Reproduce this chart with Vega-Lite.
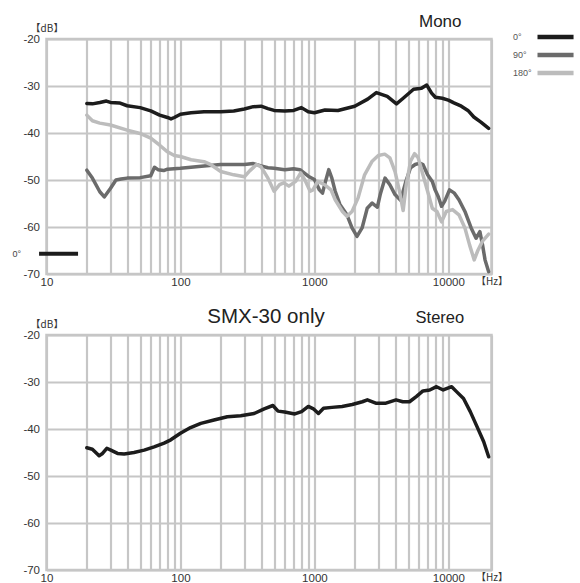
{
  "$schema": "https://vega.github.io/schema/vega-lite/v6.json",
  "padding": {"left": 10.5, "top": 11, "right": 5, "bottom": 3},
  "background": "white",
  "config": {
    "font": "Liberation Sans",
    "view": {"stroke": "#c6c6c6", "strokeWidth": 2.5},
    "title": {"font": "Liberation Sans", "fontWeight": "normal", "color": "#222222"}
  },
  "datasets": {
    "mono": [
      {"f": 20, "db": -33.7, "angle": "0°"},
      {"f": 22, "db": -33.8, "angle": "0°"},
      {"f": 25, "db": -33.5, "angle": "0°"},
      {"f": 28, "db": -33.2, "angle": "0°"},
      {"f": 30, "db": -33.5, "angle": "0°"},
      {"f": 35, "db": -33.6, "angle": "0°"},
      {"f": 40, "db": -34.2, "angle": "0°"},
      {"f": 50, "db": -34.6, "angle": "0°"},
      {"f": 60, "db": -35.3, "angle": "0°"},
      {"f": 70, "db": -36.2, "angle": "0°"},
      {"f": 80, "db": -36.7, "angle": "0°"},
      {"f": 85, "db": -37.0, "angle": "0°"},
      {"f": 90, "db": -36.7, "angle": "0°"},
      {"f": 100, "db": -36.0, "angle": "0°"},
      {"f": 120, "db": -35.7, "angle": "0°"},
      {"f": 150, "db": -35.5, "angle": "0°"},
      {"f": 200, "db": -35.5, "angle": "0°"},
      {"f": 250, "db": -35.3, "angle": "0°"},
      {"f": 300, "db": -34.9, "angle": "0°"},
      {"f": 350, "db": -34.4, "angle": "0°"},
      {"f": 400, "db": -34.3, "angle": "0°"},
      {"f": 450, "db": -34.8, "angle": "0°"},
      {"f": 500, "db": -35.2, "angle": "0°"},
      {"f": 600, "db": -35.3, "angle": "0°"},
      {"f": 700, "db": -35.2, "angle": "0°"},
      {"f": 800, "db": -34.6, "angle": "0°"},
      {"f": 900, "db": -35.5, "angle": "0°"},
      {"f": 1000, "db": -35.7, "angle": "0°"},
      {"f": 1200, "db": -35.1, "angle": "0°"},
      {"f": 1500, "db": -35.2, "angle": "0°"},
      {"f": 2000, "db": -34.3, "angle": "0°"},
      {"f": 2500, "db": -32.8, "angle": "0°"},
      {"f": 2900, "db": -31.4, "angle": "0°"},
      {"f": 3500, "db": -32.2, "angle": "0°"},
      {"f": 4100, "db": -33.8, "angle": "0°"},
      {"f": 4600, "db": -32.6, "angle": "0°"},
      {"f": 5500, "db": -30.7, "angle": "0°"},
      {"f": 6300, "db": -30.5, "angle": "0°"},
      {"f": 6900, "db": -29.8, "angle": "0°"},
      {"f": 7500, "db": -31.5, "angle": "0°"},
      {"f": 8000, "db": -32.4, "angle": "0°"},
      {"f": 9000, "db": -32.6, "angle": "0°"},
      {"f": 10000, "db": -33.0, "angle": "0°"},
      {"f": 11000, "db": -33.6, "angle": "0°"},
      {"f": 12500, "db": -34.3, "angle": "0°"},
      {"f": 14000, "db": -35.2, "angle": "0°"},
      {"f": 15500, "db": -36.6, "angle": "0°"},
      {"f": 17500, "db": -37.7, "angle": "0°"},
      {"f": 20000, "db": -39.0, "angle": "0°"},
      {"f": 20, "db": -47.9, "angle": "90°"},
      {"f": 22, "db": -49.6, "angle": "90°"},
      {"f": 25, "db": -52.5, "angle": "90°"},
      {"f": 27, "db": -53.6, "angle": "90°"},
      {"f": 30, "db": -51.8, "angle": "90°"},
      {"f": 33, "db": -50.0, "angle": "90°"},
      {"f": 36, "db": -49.8, "angle": "90°"},
      {"f": 40, "db": -49.6, "angle": "90°"},
      {"f": 50, "db": -49.5, "angle": "90°"},
      {"f": 60, "db": -49.1, "angle": "90°"},
      {"f": 64, "db": -47.3, "angle": "90°"},
      {"f": 68, "db": -47.8, "angle": "90°"},
      {"f": 75, "db": -48.0, "angle": "90°"},
      {"f": 80, "db": -47.7, "angle": "90°"},
      {"f": 100, "db": -47.5, "angle": "90°"},
      {"f": 150, "db": -47.0, "angle": "90°"},
      {"f": 200, "db": -46.7, "angle": "90°"},
      {"f": 300, "db": -46.7, "angle": "90°"},
      {"f": 350, "db": -46.5, "angle": "90°"},
      {"f": 400, "db": -47.0, "angle": "90°"},
      {"f": 450, "db": -47.4, "angle": "90°"},
      {"f": 500, "db": -47.5, "angle": "90°"},
      {"f": 600, "db": -47.8, "angle": "90°"},
      {"f": 700, "db": -47.6, "angle": "90°"},
      {"f": 780, "db": -47.8, "angle": "90°"},
      {"f": 900, "db": -49.2, "angle": "90°"},
      {"f": 1000, "db": -49.9, "angle": "90°"},
      {"f": 1090, "db": -52.1, "angle": "90°"},
      {"f": 1150, "db": -52.8, "angle": "90°"},
      {"f": 1210, "db": -50.3, "angle": "90°"},
      {"f": 1280, "db": -47.8, "angle": "90°"},
      {"f": 1350, "db": -49.6, "angle": "90°"},
      {"f": 1430, "db": -52.4, "angle": "90°"},
      {"f": 1550, "db": -55.2, "angle": "90°"},
      {"f": 1750, "db": -57.4, "angle": "90°"},
      {"f": 1910, "db": -60.2, "angle": "90°"},
      {"f": 2080, "db": -62.0, "angle": "90°"},
      {"f": 2270, "db": -60.2, "angle": "90°"},
      {"f": 2480, "db": -56.0, "angle": "90°"},
      {"f": 2700, "db": -54.9, "angle": "90°"},
      {"f": 2950, "db": -55.8, "angle": "90°"},
      {"f": 3100, "db": -53.1, "angle": "90°"},
      {"f": 3370, "db": -49.6, "angle": "90°"},
      {"f": 3660, "db": -51.0, "angle": "90°"},
      {"f": 4000, "db": -53.1, "angle": "90°"},
      {"f": 4400, "db": -54.3, "angle": "90°"},
      {"f": 4820, "db": -50.3, "angle": "90°"},
      {"f": 5220, "db": -47.4, "angle": "90°"},
      {"f": 5650, "db": -46.7, "angle": "90°"},
      {"f": 6130, "db": -46.4, "angle": "90°"},
      {"f": 6460, "db": -46.7, "angle": "90°"},
      {"f": 7000, "db": -48.9, "angle": "90°"},
      {"f": 7590, "db": -50.3, "angle": "90°"},
      {"f": 7960, "db": -52.1, "angle": "90°"},
      {"f": 8400, "db": -53.5, "angle": "90°"},
      {"f": 8900, "db": -55.6, "angle": "90°"},
      {"f": 9400, "db": -54.5, "angle": "90°"},
      {"f": 10200, "db": -52.1, "angle": "90°"},
      {"f": 11100, "db": -52.8, "angle": "90°"},
      {"f": 12000, "db": -54.2, "angle": "90°"},
      {"f": 13300, "db": -56.7, "angle": "90°"},
      {"f": 14800, "db": -60.2, "angle": "90°"},
      {"f": 16100, "db": -62.4, "angle": "90°"},
      {"f": 17200, "db": -61.0, "angle": "90°"},
      {"f": 18000, "db": -63.8, "angle": "90°"},
      {"f": 18800, "db": -67.0, "angle": "90°"},
      {"f": 20000, "db": -69.5, "angle": "90°"},
      {"f": 20, "db": -36.2, "angle": "180°"},
      {"f": 22, "db": -37.4, "angle": "180°"},
      {"f": 25, "db": -37.9, "angle": "180°"},
      {"f": 30, "db": -38.3, "angle": "180°"},
      {"f": 40, "db": -39.4, "angle": "180°"},
      {"f": 50, "db": -40.1, "angle": "180°"},
      {"f": 60, "db": -41.1, "angle": "180°"},
      {"f": 70, "db": -42.6, "angle": "180°"},
      {"f": 80, "db": -44.0, "angle": "180°"},
      {"f": 90, "db": -44.8, "angle": "180°"},
      {"f": 100, "db": -45.0, "angle": "180°"},
      {"f": 120, "db": -45.7, "angle": "180°"},
      {"f": 150, "db": -46.1, "angle": "180°"},
      {"f": 170, "db": -46.8, "angle": "180°"},
      {"f": 200, "db": -48.2, "angle": "180°"},
      {"f": 250, "db": -48.9, "angle": "180°"},
      {"f": 300, "db": -49.3, "angle": "180°"},
      {"f": 330, "db": -48.0, "angle": "180°"},
      {"f": 370, "db": -46.7, "angle": "180°"},
      {"f": 400, "db": -47.2, "angle": "180°"},
      {"f": 450, "db": -49.6, "angle": "180°"},
      {"f": 500, "db": -52.4, "angle": "180°"},
      {"f": 550, "db": -51.0, "angle": "180°"},
      {"f": 590, "db": -50.6, "angle": "180°"},
      {"f": 645, "db": -51.3, "angle": "180°"},
      {"f": 725, "db": -50.3, "angle": "180°"},
      {"f": 790, "db": -48.5, "angle": "180°"},
      {"f": 860, "db": -50.3, "angle": "180°"},
      {"f": 930, "db": -52.4, "angle": "180°"},
      {"f": 975, "db": -52.1, "angle": "180°"},
      {"f": 1060, "db": -50.3, "angle": "180°"},
      {"f": 1190, "db": -51.0, "angle": "180°"},
      {"f": 1330, "db": -52.1, "angle": "180°"},
      {"f": 1430, "db": -54.2, "angle": "180°"},
      {"f": 1620, "db": -56.7, "angle": "180°"},
      {"f": 1750, "db": -57.7, "angle": "180°"},
      {"f": 1910, "db": -56.7, "angle": "180°"},
      {"f": 2120, "db": -53.8, "angle": "180°"},
      {"f": 2370, "db": -48.9, "angle": "180°"},
      {"f": 2700, "db": -46.0, "angle": "180°"},
      {"f": 3000, "db": -44.8, "angle": "180°"},
      {"f": 3350, "db": -44.5, "angle": "180°"},
      {"f": 3660, "db": -45.3, "angle": "180°"},
      {"f": 4000, "db": -48.2, "angle": "180°"},
      {"f": 4320, "db": -52.4, "angle": "180°"},
      {"f": 4600, "db": -56.5, "angle": "180°"},
      {"f": 4850, "db": -51.0, "angle": "180°"},
      {"f": 5220, "db": -46.0, "angle": "180°"},
      {"f": 5600, "db": -44.4, "angle": "180°"},
      {"f": 5960, "db": -45.3, "angle": "180°"},
      {"f": 6460, "db": -48.9, "angle": "180°"},
      {"f": 7000, "db": -52.4, "angle": "180°"},
      {"f": 7590, "db": -56.0, "angle": "180°"},
      {"f": 8220, "db": -56.7, "angle": "180°"},
      {"f": 8900, "db": -58.9, "angle": "180°"},
      {"f": 9650, "db": -56.7, "angle": "180°"},
      {"f": 10750, "db": -56.3, "angle": "180°"},
      {"f": 12000, "db": -57.4, "angle": "180°"},
      {"f": 13300, "db": -60.2, "angle": "180°"},
      {"f": 14400, "db": -63.8, "angle": "180°"},
      {"f": 15600, "db": -67.0, "angle": "180°"},
      {"f": 16600, "db": -65.0, "angle": "180°"},
      {"f": 18000, "db": -63.0, "angle": "180°"},
      {"f": 20000, "db": -61.5, "angle": "180°"}
    ],
    "stereo": [
      {"f": 20, "db": -44.0},
      {"f": 22, "db": -44.3},
      {"f": 24.7, "db": -45.7},
      {"f": 26.2, "db": -45.2},
      {"f": 28.2, "db": -44.1},
      {"f": 30.2, "db": -44.5},
      {"f": 33.9, "db": -45.2},
      {"f": 38, "db": -45.3},
      {"f": 45, "db": -45.0},
      {"f": 53.6, "db": -44.5},
      {"f": 63.6, "db": -43.8},
      {"f": 75.5, "db": -43.0},
      {"f": 84.7, "db": -42.3},
      {"f": 100, "db": -40.9},
      {"f": 119, "db": -39.7},
      {"f": 142, "db": -38.8},
      {"f": 178, "db": -38.1},
      {"f": 224, "db": -37.4},
      {"f": 282, "db": -37.2},
      {"f": 355, "db": -36.7},
      {"f": 422, "db": -35.7},
      {"f": 490, "db": -35.0},
      {"f": 535, "db": -36.2},
      {"f": 600, "db": -36.4},
      {"f": 714, "db": -36.8},
      {"f": 802, "db": -36.3},
      {"f": 901, "db": -35.2},
      {"f": 983, "db": -35.7},
      {"f": 1072, "db": -36.7},
      {"f": 1170, "db": -35.6},
      {"f": 1352, "db": -35.4},
      {"f": 1610, "db": -35.2},
      {"f": 1916, "db": -34.8},
      {"f": 2280, "db": -34.2},
      {"f": 2485, "db": -33.8},
      {"f": 2871, "db": -34.5},
      {"f": 3420, "db": -34.5},
      {"f": 4070, "db": -33.8},
      {"f": 4570, "db": -34.2},
      {"f": 5130, "db": -34.2},
      {"f": 5760, "db": -33.1},
      {"f": 6465, "db": -31.9},
      {"f": 7260, "db": -31.7},
      {"f": 8160, "db": -31.0},
      {"f": 9160, "db": -31.7},
      {"f": 10590, "db": -31.0},
      {"f": 11560, "db": -32.1},
      {"f": 12980, "db": -33.5},
      {"f": 14580, "db": -36.3},
      {"f": 16370, "db": -39.5},
      {"f": 18370, "db": -42.7},
      {"f": 20000, "db": -45.9}
    ],
    "stray": [{"f": 8.8, "f2": 17.2, "db": -65.7, "label": "0°", "tf": 6.0}],
    "stereoLabel": [{"f": 8650, "db": -16.4, "label": "Stereo"}]
  },
  "vconcat": [
    {
      "width": 445,
      "height": 235,
      "title": {"text": "Mono", "anchor": "end", "dx": -46, "fontSize": 17, "offset": -8},
      "layer": [
        {
          "data": {"name": "mono"},
          "mark": {"type": "line", "strokeWidth": 3.5, "strokeJoin": "round", "strokeCap": "round", "clip": true},
          "encoding": {
            "x": {
              "field": "f", "type": "quantitative",
              "scale": {"type": "log", "domain": [10, 21000], "nice": false},
              "axis": {
                "values": [10, 20, 30, 40, 50, 60, 70, 80, 90, 100, 200, 300, 400, 500, 600, 700, 800, 900, 1000, 2000, 3000, 4000, 5000, 6000, 7000, 8000, 9000, 10000, 21000],
                "labelExpr": "datum.value > 15000 ? '【Hz】' : ((datum.value == 10 || datum.value == 100 || datum.value == 1000 || datum.value == 10000) ? format(datum.value, 'd') : '')",
                "title": null, "ticks": false, "domain": false,
                "labelOverlap": false, "labelFlush": false, "labelBound": false,
                "gridColor": "#c6c6c6", "gridWidth": 2.2, "gridOpacity": 1,
                "labelFontSize": {"condition": {"test": "datum.value > 15000", "value": 10}, "value": 11.5},
                "labelFont": {"condition": {"test": "datum.value > 15000", "value": "Noto Sans CJK JP"}, "value": "Liberation Sans"},
                "labelPadding": 2.5, "labelColor": "#333333"
              }
            },
            "y": {
              "field": "db", "type": "quantitative",
              "scale": {"domain": [-70, -20], "nice": false, "zero": false},
              "axis": {
                "values": [-70, -65, -60, -55, -50, -45, -40, -35, -30, -25, -20],
                "labelExpr": "datum.value % 10 == 0 ? ('-' + format(-datum.value, 'd')) : ''",
                "title": "【dB】", "titleAngle": 0, "titleAlign": "center", "titleBaseline": "bottom",
                "titleX": 0, "titleY": -6, "titleFontSize": 10, "titleFont": "Noto Sans CJK JP", "titleFontWeight": "normal", "titleColor": "#333333",
                "ticks": false, "domain": false, "labelOverlap": false, "labelFlush": false, "labelBound": false,
                "gridColor": "#c6c6c6", "gridWidth": 2.2, "gridOpacity": 1,
                "labelFontSize": 11.5, "labelPadding": 7, "labelColor": "#333333", "labelFont": "Liberation Sans"
              }
            },
            "color": {
              "field": "angle", "type": "nominal",
              "scale": {"domain": ["0°", "90°", "180°"], "range": ["#1c1c1c", "#6b6b6b", "#bcbcbc"]},
              "legend": {
                "title": null, "orient": "none", "legendX": 485, "legendY": -8,
                "symbolType": "M0,0H10.3", "symbolSize": 49, "symbolStrokeWidth": 4.5,
                "labelAlign": "left", "labelOffset": -30.5, "labelFontSize": 9, "labelColor": "#555555",
                "labelFont": "Liberation Sans", "rowPadding": 0
              }
            },
            "order": {"field": "f", "type": "quantitative"}
          }
        },
        {
          "data": {"name": "stray"},
          "mark": {"type": "rule", "strokeWidth": 4, "color": "#1c1c1c"},
          "encoding": {
            "x": {"field": "f", "type": "quantitative"},
            "x2": {"field": "f2"},
            "y": {"field": "db", "type": "quantitative"}
          }
        },
        {
          "data": {"name": "stray"},
          "mark": {"type": "text", "fontSize": 9, "color": "#444444", "font": "Liberation Sans"},
          "encoding": {
            "x": {"field": "tf", "type": "quantitative"},
            "y": {"field": "db", "type": "quantitative"},
            "text": {"field": "label"}
          }
        }
      ]
    },
    {
      "width": 445,
      "height": 235,
      "title": {"text": "SMX-30 only", "anchor": "middle", "dx": -3, "fontSize": 20.5, "offset": -17},
      "layer": [
        {
          "data": {"name": "stereo"},
          "mark": {"type": "line", "strokeWidth": 3.5, "strokeJoin": "round", "strokeCap": "round", "color": "#1c1c1c"},
          "encoding": {
            "x": {
              "field": "f", "type": "quantitative",
              "scale": {"type": "log", "domain": [10, 21000], "nice": false},
              "axis": {
                "values": [10, 20, 30, 40, 50, 60, 70, 80, 90, 100, 200, 300, 400, 500, 600, 700, 800, 900, 1000, 2000, 3000, 4000, 5000, 6000, 7000, 8000, 9000, 10000, 21000],
                "labelExpr": "datum.value > 15000 ? '【Hz】' : ((datum.value == 10 || datum.value == 100 || datum.value == 1000 || datum.value == 10000) ? format(datum.value, 'd') : '')",
                "title": null, "ticks": false, "domain": false,
                "labelOverlap": false, "labelFlush": false, "labelBound": false,
                "gridColor": "#c6c6c6", "gridWidth": 2.2, "gridOpacity": 1,
                "labelFontSize": {"condition": {"test": "datum.value > 15000", "value": 10}, "value": 11.5},
                "labelFont": {"condition": {"test": "datum.value > 15000", "value": "Noto Sans CJK JP"}, "value": "Liberation Sans"},
                "labelPadding": 2.5, "labelColor": "#333333"
              }
            },
            "y": {
              "field": "db", "type": "quantitative",
              "scale": {"domain": [-70, -20], "nice": false, "zero": false},
              "axis": {
                "values": [-70, -65, -60, -55, -50, -45, -40, -35, -30, -25, -20],
                "labelExpr": "datum.value % 10 == 0 ? ('-' + format(-datum.value, 'd')) : ''",
                "title": "【dB】", "titleAngle": 0, "titleAlign": "center", "titleBaseline": "bottom",
                "titleX": 0, "titleY": -6, "titleFontSize": 10, "titleFont": "Noto Sans CJK JP", "titleFontWeight": "normal", "titleColor": "#333333",
                "ticks": false, "domain": false, "labelOverlap": false, "labelFlush": false, "labelBound": false,
                "gridColor": "#c6c6c6", "gridWidth": 2.2, "gridOpacity": 1,
                "labelFontSize": 11.5, "labelPadding": 7, "labelColor": "#333333", "labelFont": "Liberation Sans"
              }
            },
            "order": {"field": "f", "type": "quantitative"}
          }
        },
        {
          "data": {"name": "stereoLabel"},
          "mark": {"type": "text", "fontSize": 16.5, "color": "#222222", "font": "Liberation Sans"},
          "encoding": {
            "x": {"field": "f", "type": "quantitative"},
            "y": {"field": "db", "type": "quantitative"},
            "text": {"field": "label"}
          }
        }
      ]
    }
  ],
  "spacing": 61,
  "bounds": "flush"
}
